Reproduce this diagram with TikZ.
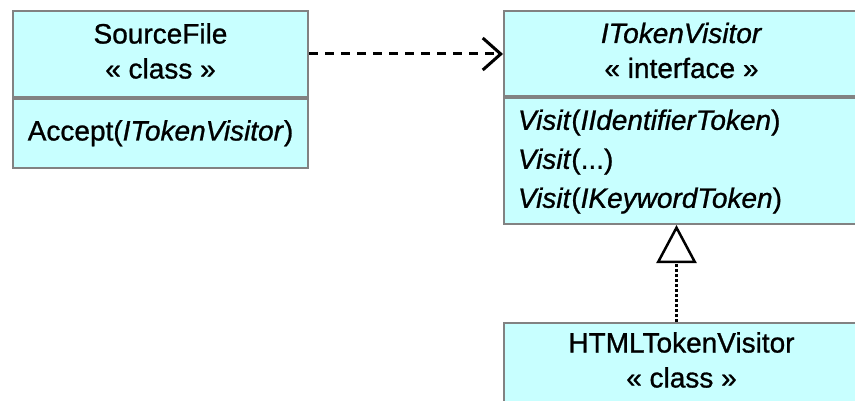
\documentclass[tikz,border=0pt]{standalone}
\usepackage{fontspec}
\setmainfont{Liberation Sans}[UprightFeatures={FakeBold=0.9},ItalicFeatures={FakeBold=0.9}]
\usetikzlibrary{arrows.meta}
\definecolor{umlcyan}{RGB}{200,255,255}
\definecolor{umlgray}{RGB}{130,130,130}
\begin{document}
\begin{tikzpicture}[x=1pt,y=-1pt, umlbox/.style={draw=umlgray,fill=umlcyan,line width=2pt,rectangle,inner sep=0pt,anchor=north west,font=\fontsize{28}{35}\selectfont}, depend/.style={line width=3pt,dash pattern=on 9pt off 7pt,-{Straight Barb[length=18pt,width=32pt,line width=3pt]}}, realize/.style={line width=3pt,dash pattern=on 3pt off 2pt,-{Triangle[fill=white,length=38pt,width=40pt,line width=2.5pt]}}]
\fill[white] (0,0) rectangle (855,401);
\useasboundingbox (0,0) rectangle (855,401);
\node[umlbox,minimum width=295pt,minimum height=86pt] (src) at (12,10) {\begin{tabular}{c} SourceFile \\ « class » \end{tabular}};
\node[umlbox,minimum width=295pt,minimum height=69pt] (srcops) at (12,98) {\begin{tabular}{c} Accept(\textit{ITokenVisitor}) \end{tabular}};
\node[umlbox,minimum width=355pt,minimum height=85pt] (visitor) at (503,10) {\begin{tabular}{c} \textit{ITokenVisitor} \\ « interface » \end{tabular}};
\node[umlbox,text width=327pt,inner xsep=14pt,minimum height=126pt,font=\fontsize{28}{39}\selectfont] (visitorops) at (503,97) {\raisebox{-3pt}{\begin{tabular}{@{}l@{}} \textit{Visit}(\textit{IIdentifierToken}) \\ \textit{Visit}(...) \\ \textit{Visit}(\textit{IKeywordToken}) \end{tabular}}};
\node[umlbox,minimum width=355pt,minimum height=80pt] (html) at (503,322) {\begin{tabular}{c} HTMLTokenVisitor \\ « class » \end{tabular}};
\draw[depend] (src.east) -- (src.east -| visitor.west);
\draw[realize] ([xshift=-5pt]html.north) -- ([xshift=-5pt]visitorops.south);
\end{tikzpicture}
\end{document}
